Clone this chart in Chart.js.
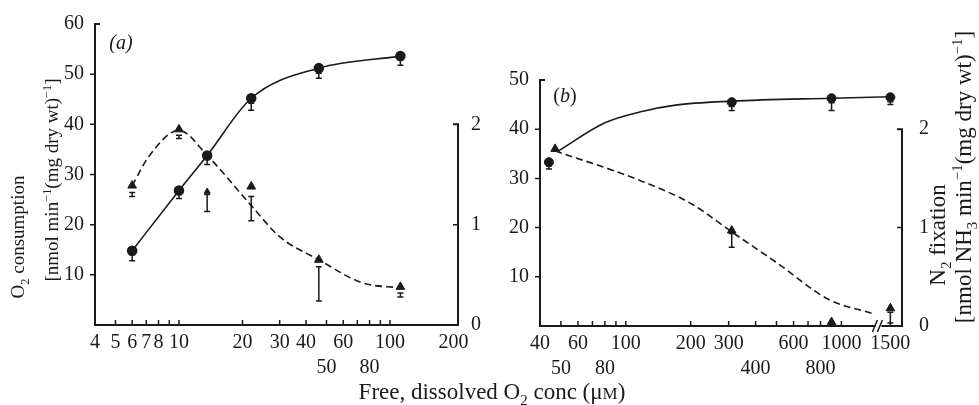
<!DOCTYPE html>
<html>
<head>
<meta charset="utf-8">
<script src="https://cdn.jsdelivr.net/npm/chart.js@4.4.1/dist/chart.umd.min.js"></script>
<style>
  body { margin: 0; background: #fff; }
  #wrap { position: relative; width: 979px; height: 405px; overflow: hidden; font-family: "Liberation Serif", serif; color: #1a1a1a; }
  canvas { position: absolute; top: 0; }
  .t { position: absolute; white-space: nowrap; font-size: 20px; line-height: 22px; transform: translate(-50%, -50%); }
  .v { transform: translate(-50%, -50%) rotate(-90deg); }
  .s19 { font-size: 19px; }
  .s23 { font-size: 23px; }
  sub, sup { font-size: 0.65em; line-height: 0; }
</style>
</head>
<body>
<div id="wrap">
  <canvas id="chartA" width="490" height="405" style="left:0"></canvas>
  <canvas id="chartB" width="509" height="405" style="left:470px"></canvas>
  <div class="t v s19" style="left:18px; top:237px">O<sub>2</sub> consumption</div>
  <div class="t v s19" style="left:52px; top:180px">[nmol min<sup>−1</sup>(mg dry wt)<sup>−1</sup>]</div>
  <div class="t v s23" style="left:938px; top:235px">N<sub>2</sub> fixation</div>
  <div class="t v s23" style="left:964px; top:177px">[nmol NH<sub>3</sub> min<sup>−1</sup>(mg dry wt)<sup>−1</sup>]</div>
  <div class="t s23" style="left:492px; top:393px">Free, dissolved O<sub>2</sub> conc (μ<span style="font-size:17px">M</span>)</div>
  <div class="t" style="left:121px; top:42px"><i>(a)</i></div>
  <div class="t" style="left:565px; top:95px">(<i>b</i>)</div>
</div>
<script>
// panel (a): O2 uptake (left axis) and N2 fixation (right axis) vs free O2
const aConc = [6, 10, 13.6, 22, 46, 112];
const aO2 = [14.8, 26.8, 33.8, 45.2, 51.2, 53.6];
const aO2Lo = [12.8, 25.2, 32.0, 42.8, 49.2, 51.8];
const aO2Hi = [14.0, 26.0, 33.0, 44.2, 50.2, 52.8];
const aN2 = [1.39, 1.95, 1.33, 1.38, 0.65, 0.38];
const aN2Lo = [1.28, 1.86, 1.13, 1.04, 0.24, 0.28];
const aN2Hi = [1.32, 1.89, 1.30, 1.28, 0.58, 0.32];
const aFitX = [6, 7.2, 10, 13.6, 22, 30, 46, 74, 112];
const aFitY = [1.39, 1.68, 1.94, 1.69, 1.19, 0.88, 0.65, 0.42, 0.37];

// panel (b)
const bO2X = [44, 310, 900, 1500];
const bO2 = [33.3, 45.5, 46.3, 46.5];
const bO2Lo = [31.9, 43.8, 43.8, 45.0];
const bO2Hi = [32.5, 44.6, 45.4, 45.6];
const bO2FitX = [48, 80, 116, 170, 310, 900, 1500];
const bO2FitY = [35.4, 41.3, 43.5, 44.9, 45.7, 46.3, 46.6];
const bN2X = [47, 310, 900, 1500];
const bN2 = [1.80, 0.97, 0.04, 0.18];
const bN2Lo = [null, 0.80, null, 0.03];
const bN2Hi = [null, 0.94, null, 0.14];
const bFitX = [47, 116, 202, 313, 504, 873, 1380];
const bFitY = [1.78, 1.48, 1.24, 0.95, 0.64, 0.27, 0.13];

// tick labels
const aXMarks = [4, 5, 6, 7, 8, 9, 10, 20, 30, 40, 50, 60, 70, 80, 90, 100, 200];
const aXTop = [4, 5, 6, 7, 8, 10, 20, 30, 40, 60, 100, 200];
const aXLow = [50, 80];
const aYTicks = [0, 10, 20, 30, 40, 50, 60];
const bXMarks = [40, 50, 60, 70, 80, 90, 100, 200, 300, 400, 500, 600, 700, 800, 900, 1000, 1500];
const bXTop = [40, 60, 100, 200, 300, 600, 1000, 1500];
const bXLow = [50, 80, 400, 800];
const bYTicks = [0, 10, 20, 30, 40, 50];
const n2Ticks = [0, 1, 2];

// axis break in (b), between 1000 and 1500
const bBreak = 1400;
const bGap = 11;

const ink = '#1a1a1a';
const tickFont = { family: 'Liberation Serif', size: 20, lineHeight: 1.25 };
const pts = (xs, ys) => xs.map((x, i) => ({ x: x, y: ys[i] }));
const xLabel = (v, top, low) => top.includes(v) ? String(v) : (low.includes(v) ? ['', String(v)] : '');

// log axis with a break: values past bBreak are pushed right by bGap
class BrokenLogScale extends Chart.LogarithmicScale {
  getPixelForValue(value) {
    const p = super.getPixelForValue(value);
    return value > bBreak ? p + bGap : p;
  }
}
BrokenLogScale.id = 'brokenLog';
BrokenLogScale.defaults = Chart.LogarithmicScale.defaults;
Chart.register(BrokenLogScale);

// 误差棒
Chart.register({
  id: 'errBars',
  afterDatasetsDraw(chart) {
    const ctx = chart.ctx;
    chart.data.datasets.forEach((ds, i) => {
      if (!ds.errLo) return;
      const meta = chart.getDatasetMeta(i);
      const ys = chart.scales[meta.yAxisID];
      ctx.save();
      ctx.strokeStyle = ink;
      ctx.lineWidth = 1.5;
      ctx.beginPath();
      meta.data.forEach((pt, j) => {
        if (ds.errLo[j] == null) return;
        const y1 = ys.getPixelForValue(ds.errLo[j]);
        const y2 = ys.getPixelForValue(ds.errHi[j]);
        ctx.moveTo(pt.x, y1); ctx.lineTo(pt.x, y2);
        ctx.moveTo(pt.x - 3, y1); ctx.lineTo(pt.x + 3, y1);
        ctx.moveTo(pt.x - 3, y2); ctx.lineTo(pt.x + 3, y2);
      });
      ctx.stroke();
      ctx.restore();
    });
  }
});

// axis lines with inward ticks, right axis only up to 2
function frame(cfg) {
  return {
    id: 'frame',
    afterDraw(chart) {
      const { ctx, chartArea: ca, scales: { x, y, y2 } } = chart;
      const seg = (x1, y1, x2, y2_) => { ctx.moveTo(x1, y1); ctx.lineTo(x2, y2_); };
      const y0 = y.getPixelForValue(0);
      const yt = y.getPixelForValue(cfg.yTop);
      ctx.save();
      ctx.strokeStyle = ink;
      ctx.lineWidth = 2;
      ctx.beginPath();
      seg(ca.left, y0, ca.right, y0);
      seg(ca.left, y0 + 1, ca.left, yt);
      seg(ca.left - 1, yt, ca.left + 5, yt);
      const r0 = y2.getPixelForValue(0), rt = y2.getPixelForValue(2);
      seg(ca.right, r0 + 1, ca.right, rt);
      seg(ca.right + 1, rt, ca.right - 5, rt);
      ctx.stroke();
      ctx.lineWidth = 1.5;
      ctx.beginPath();
      cfg.xMarks.forEach(v => { const p = x.getPixelForValue(v); seg(p, y0, p, y0 - 5); });
      cfg.yMarks.forEach(v => { const p = y.getPixelForValue(v); seg(ca.left - 5, p, ca.left, p); });
      const p1 = y2.getPixelForValue(1);
      seg(ca.right, p1, ca.right - 5, p1);
      ctx.stroke();
      if (cfg.brk) {
        const bx = x.getPixelForValue(cfg.brk) + bGap / 2;
        ctx.fillStyle = '#fff';
        ctx.fillRect(bx - 3, y0 - 2, 6, 4);
        ctx.beginPath();
        seg(bx - 6, y0 + 6, bx - 1, y0 - 6);
        seg(bx - 1, y0 + 6, bx + 4, y0 - 6);
        ctx.stroke();
      }
      ctx.restore();
    }
  };
}

function yScale(side, max, ticks, width, pad, cb) {
  return {
    position: side, min: 0, max: max,
    grid: { display: false }, border: { display: false },
    afterBuildTicks: s => { s.ticks = ticks.map(v => ({ value: v })); },
    afterFit: s => { s.width = width; },
    ticks: { padding: pad, color: ink, font: tickFont, callback: cb }
  };
}

function xScale(type, min, max, marks, top, low, h) {
  return {
    type: type, min: min, max: max,
    grid: { display: false }, border: { display: false },
    afterBuildTicks: s => { s.ticks = marks.map(v => ({ value: v })); },
    afterFit: s => { s.height = h; },
    ticks: { autoSkip: false, maxRotation: 0, minRotation: 0, padding: -3, color: ink, font: tickFont,
             callback: v => xLabel(v, top, low) }
  };
}

const baseOpts = (padTop) => ({
  responsive: false,
  animation: false,
  layout: { padding: { top: padTop, left: 0, right: 0, bottom: 0 } },
  plugins: { legend: { display: false }, tooltip: { enabled: false } }
});

const fitLine = (xs, ys, axis, dash) => ({
  data: pts(xs, ys), yAxisID: axis, showLine: true, pointRadius: 0,
  borderColor: ink, borderWidth: 1.6, borderDash: dash, cubicInterpolationMode: 'monotone'
});

new Chart(document.getElementById('chartA'), {
  type: 'scatter',
  data: {
    datasets: [
      fitLine(aFitX, aFitY, 'y2', [7, 4]),
      {
        data: pts(aConc, aO2), yAxisID: 'y', showLine: true, cubicInterpolationMode: 'monotone',
        borderColor: ink, borderWidth: 1.6, pointRadius: 4.5, pointBackgroundColor: ink, pointBorderColor: ink,
        errLo: aO2Lo, errHi: aO2Hi
      },
      {
        data: pts(aConc, aN2), yAxisID: 'y2', showLine: false, pointStyle: 'triangle',
        pointRadius: [5, 5, 3.5, 5, 5, 5], pointBackgroundColor: ink, pointBorderColor: ink,
        errLo: aN2Lo, errHi: aN2Hi
      }
    ]
  },
  options: Object.assign(baseOpts(24), {
    scales: {
      x: xScale('logarithmic', 4, 210, aXMarks, aXTop, aXLow, 80),
      y: yScale('left', 60, aYTicks, 95, 3, v => v === 0 ? '' : v),
      y2: yScale('right', 3, n2Ticks, 32, 5, v => v)
    }
  }),
  plugins: [frame({ yTop: 60, xMarks: aXMarks.slice(1, -1), yMarks: [10, 20, 30, 40, 50] })]
});

new Chart(document.getElementById('chartB'), {
  type: 'scatter',
  data: {
    datasets: [
      fitLine(bFitX, bFitY, 'y2', [7, 4]),
      fitLine(bO2FitX, bO2FitY, 'y', []),
      {
        data: pts(bO2X, bO2), yAxisID: 'y', showLine: false,
        pointRadius: 4.5, pointBackgroundColor: ink, pointBorderColor: ink,
        errLo: bO2Lo, errHi: bO2Hi
      },
      {
        data: pts(bN2X, bN2), yAxisID: 'y2', showLine: false, pointStyle: 'triangle',
        pointRadius: 5, pointBackgroundColor: ink, pointBorderColor: ink,
        errLo: bN2Lo, errHi: bN2Hi
      }
    ]
  },
  options: Object.assign(baseOpts(80), {
    scales: {
      x: xScale('brokenLog', 40, 1910, bXMarks, bXTop, bXLow, 79),
      y: yScale('left', 50, bYTicks, 70, 3, v => v === 0 ? '' : v),
      y2: yScale('right', 2.5, n2Ticks, 77, 9, v => v)
    }
  }),
  plugins: [frame({ yTop: 50, xMarks: bXMarks.slice(1), yMarks: [10, 20, 30, 40], brk: bBreak })]
});
</script>
</body>
</html>
